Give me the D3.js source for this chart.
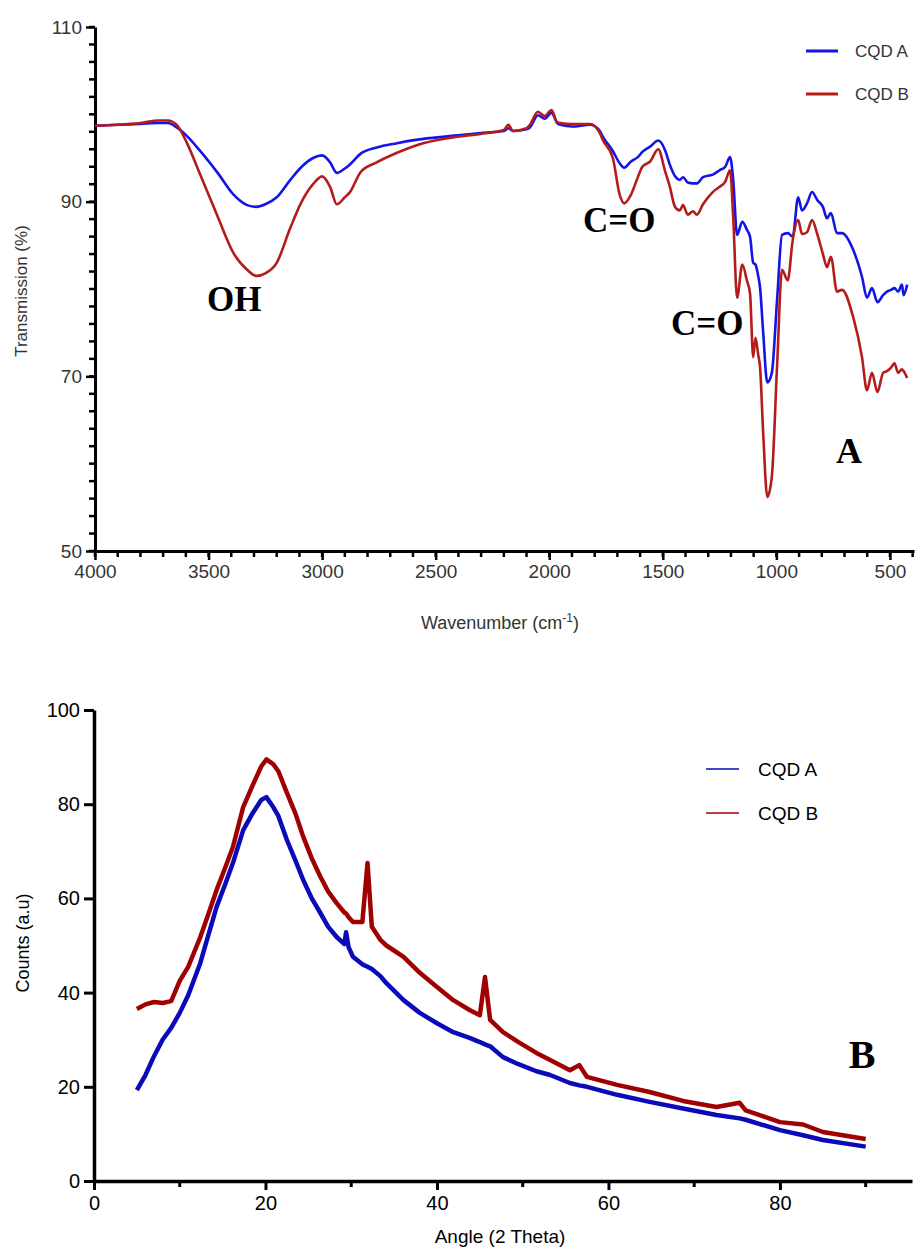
<!DOCTYPE html>
<meta charset="utf-8">
<style>
  body { margin: 0; background: #fff; }
  svg { display: block; }
  .ftir text { font-family: "Liberation Sans", Arial, sans-serif; fill: #333; }
  .xrd text { font-family: "Liberation Sans", Arial, sans-serif; fill: #000; }
  .note { font-family: "Liberation Serif", "Times New Roman", serif; font-weight: bold; fill: #000; }
  .axis path, .axis line { stroke: #000; }
</style>
<svg width="922" height="1248"></svg>
<script src="https://d3js.org/d3.v7.min.js"></script>
<script>

// ---- FTIR (panel A) ----
var wavenumbers = [4000,3900,3800,3720,3680,3640,3595,3540,3460,3390,3330,3290,3250,3200,3140,3090,3040,3000,
  2965,2935,2900,2880,2830,2760,2670,2580,2440,2290,2200,2180,2160,2100,2085,2050,2020,1990,1965,1950,1900,
  1820,1780,1763,1720,1690,1670,1640,1610,1590,1556,1520,1490,1470,1446,1425,1411,1390,1367,1350,1323,1280,
  1250,1225,1204,1190,1173,1150,1130,1116,1102,1092,1080,1072,1058,1040,1020,997,975,950,928,904,887,865,
  843,820,795,777,760,733,711,662,623,601,579,555,530,513,495,480,464,447,440,424];
var ftirA = [98.7,98.8,98.9,99.0,99.0,98.5,97.5,95.9,93.3,90.8,89.6,89.4,89.7,90.5,92.5,94.0,95.0,95.3,
  94.5,93.3,93.8,94.2,95.5,96.2,96.7,97.1,97.5,97.9,98.1,98.4,98.1,98.3,98.5,99.9,99.5,100.2,99.0,98.8,98.6,
  98.8,98.2,97.4,95.8,94.4,93.9,94.6,95.1,95.7,96.3,97.0,95.9,94.3,92.9,92.5,92.8,92.2,92.1,92.1,92.8,93.1,
  93.6,94.0,95.1,92.5,86.2,87.7,86.8,86.0,83.0,82.8,81.5,80.2,75.0,69.3,70.4,78.7,86.2,86.4,86.0,90.5,89.0,89.8,
  91.1,90.2,89.4,88.1,88.7,86.4,86.4,84.5,81.4,79.0,80.1,78.5,79.3,79.7,79.9,80.1,79.7,80.5,79.3,80.5];
var ftirB = [98.7,98.8,99.0,99.3,99.3,98.8,96.7,93.3,88.3,84.1,82.2,81.5,81.8,83.0,87.0,90.0,92.0,92.9,
  91.7,89.7,90.5,91.0,93.4,94.5,95.6,96.5,97.3,97.8,98.2,98.8,98.1,98.4,98.8,100.3,99.8,100.5,99.1,99.0,98.9,
  98.9,98.0,97.0,95.0,90.8,89.8,90.8,92.8,94.0,94.6,96.0,93.5,91.8,89.4,89.0,89.6,88.5,88.9,88.5,89.7,91.1,
  91.7,92.3,93.6,88.2,79.0,82.8,81.0,79.5,72.2,74.4,72.5,71.1,63.5,56.2,58.5,71.1,82.2,81.0,85.6,87.9,86.3,86.5,
  87.9,86.3,84.0,82.5,83.7,79.7,79.9,76.8,72.2,68.4,70.4,68.2,70.4,70.6,71.0,71.5,70.4,70.8,70.6,69.8];
var ftirTicksX = [4000,3500,3000,2500,2000,1500,1000,500];
var ftirTicksY = [50,70,90,110];

// ---- XRD (panel B) ----
var angles = [5,6,7,8,9,10,11,12.4,13.3,14.3,15.3,16.2,17.4,18.5,19.5,20.1,20.9,21.5,22.5,23.5,24.4,25.4,
  26.4,27.3,28.3,29.2,29.4,29.7,30.2,31.3,31.9,32.4,33.4,34.1,36.1,38,40,41.9,43.8,45,45.6,46.2,47.7,49.5,
  51.6,53.2,55.5,56.6,57.5,61,64.8,68.7,72.6,75.3,76,80,82.7,85,90];
var xrdA = [19.3,22.5,26.5,30.0,32.5,35.7,39.5,46.3,52.0,58.2,63.0,67.5,74.5,78.1,80.9,81.5,79.4,77.5,72.4,
  68.0,63.9,60.0,56.9,54.0,51.8,50.3,52.8,49.6,47.6,46.0,45.5,45.0,43.5,42.0,38.4,35.7,33.5,31.6,30.4,29.5,
  29.0,28.6,26.3,24.8,23.3,22.5,20.8,20.3,20.0,18.3,16.8,15.4,14.0,13.3,13.0,10.8,9.7,8.7,7.3];
var xrdB = [36.5,37.5,38.0,37.8,38.2,42.5,45.5,51.8,56.5,61.8,66.5,70.9,79.4,84.0,88.0,89.5,88.5,87.0,82.4,
  78.0,73.1,68.5,64.6,61.5,59.0,57.0,56.8,56.0,55.0,55.0,67.5,54.0,51.2,50.0,47.6,44.2,41.2,38.4,36.3,35.2,
  43.3,34.2,31.6,29.5,27.2,25.7,23.5,24.6,22.1,20.4,18.9,17.0,15.7,16.6,15.0,12.5,12.0,10.4,8.9];
var xrdTicksX = [0,20,40,60,80];
var xrdTicksY = [0,20,40,60,80,100];

var seriesNames = ["CQD A", "CQD B"];

var svg = d3.select("svg");

// minor ticks as plain lines
function minorTicks(g, vals, scale, at, horizontal, len, width) {
  g.selectAll(null).data(vals).enter().append("line")
      .attr("x1", d => horizontal ? scale(d) : at)
      .attr("x2", d => horizontal ? scale(d) : at - len)
      .attr("y1", d => horizontal ? at : scale(d))
      .attr("y2", d => horizontal ? at + len : scale(d))
      .attr("stroke", "#000")
      .attr("stroke-width", width);
}

// =============== panel A ===============
var gA = svg.append("g").attr("class", "ftir");
var xA = d3.scaleLinear().domain([4000, 394]).range([95, 914]);
var yA = d3.scaleLinear().domain([50, 110]).range([551, 27]);
var colorA = ["#1414e6", "#b41c1c"];

var yAxisA = gA.append("g").attr("class", "axis")
    .attr("transform", "translate(95,0)")
    .call(d3.axisLeft(yA).tickValues(ftirTicksY).tickSize(9).tickSizeOuter(0).tickPadding(4));
yAxisA.select(".domain").attr("stroke-width", 3);
yAxisA.selectAll("line").attr("stroke-width", 2.5);
yAxisA.selectAll("text").style("font-size", "19px");

var xAxisA = gA.append("g").attr("class", "axis")
    .attr("transform", "translate(0,551)")
    .call(d3.axisBottom(xA).tickValues(ftirTicksX).tickFormat(d3.format("d"))
      .tickSize(9).tickSizeOuter(0).tickPadding(5));
xAxisA.select(".domain").attr("stroke-width", 3);
xAxisA.selectAll("line").attr("stroke-width", 2.5);
xAxisA.selectAll("text").style("font-size", "19px");

minorTicks(gA, d3.range(50, 111, 2), yA, 95, false, 6, 2.5);
minorTicks(gA, d3.range(4000, 399, -100), xA, 551, true, 6, 2.5);

gA.append("text")
    .attr("transform", "translate(27,291) rotate(-90)")
    .attr("text-anchor", "middle")
    .style("font-size", "17px")
    .text("Transmission (%)");

var xt = gA.append("text")
    .attr("x", 500).attr("y", 629)
    .attr("text-anchor", "middle")
    .style("font-size", "18px");
xt.append("tspan").text("Wavenumber (cm");
xt.append("tspan").attr("dy", -7).style("font-size", "12px").text("-1");
xt.append("tspan").attr("dy", 7).text(")");

var lineA = d3.line().curve(d3.curveMonotoneX);
[ftirA, ftirB].forEach(function(vals, k) {
  gA.append("path")
      .datum(wavenumbers.map((w, i) => [xA(w), yA(vals[i])]))
      .attr("fill", "none")
      .attr("stroke", colorA[k])
      .attr("stroke-width", 2.6)
      .attr("stroke-linejoin", "round")
      .attr("d", lineA);
});

// legend A
seriesNames.forEach(function(name, k) {
  var ly = 51 + k * 43;
  gA.append("line").attr("x1", 806).attr("x2", 838).attr("y1", ly).attr("y2", ly)
      .attr("stroke", colorA[k]).attr("stroke-width", 3);
  gA.append("text").attr("x", 855).attr("y", ly + 6).style("font-size", "17px").text(name);
});

// annotations
svg.append("text").attr("class", "note").attr("x", 207).attr("y", 311).style("font-size", "35px").text("OH");
svg.append("text").attr("class", "note").attr("x", 583).attr("y", 232).style("font-size", "35px").text("C=O");
svg.append("text").attr("class", "note").attr("x", 671).attr("y", 335).style("font-size", "35px").text("C=O");
svg.append("text").attr("class", "note").attr("x", 836).attr("y", 463).style("font-size", "36px").text("A");

// =============== panel B ===============
var gB = svg.append("g").attr("class", "xrd");
var xB = d3.scaleLinear().domain([0, 95.4]).range([94, 912]);
var yB = d3.scaleLinear().domain([0, 100]).range([1181, 710]);
var colorB = ["#0a0ab8", "#a00000"];

var yAxisB = gB.append("g").attr("class", "axis")
    .attr("transform", "translate(94,0)")
    .call(d3.axisLeft(yB).tickValues(xrdTicksY).tickSize(10).tickSizeOuter(0).tickPadding(4));
yAxisB.select(".domain").attr("stroke-width", 3.5);
yAxisB.selectAll("line").attr("stroke-width", 3);
yAxisB.selectAll("text").style("font-size", "20px");

var xAxisB = gB.append("g").attr("class", "axis")
    .attr("transform", "translate(0,1181)")
    .call(d3.axisBottom(xB).tickValues(xrdTicksX).tickSize(9).tickSizeOuter(0).tickPadding(6));
xAxisB.select(".domain").attr("stroke-width", 3.5);
xAxisB.selectAll("line").attr("stroke-width", 3);
xAxisB.selectAll("text").style("font-size", "20px");

minorTicks(gB, [10, 30, 50, 70, 90], xB, 1181, true, 6, 3);

gB.append("text")
    .attr("transform", "translate(29,943) rotate(-90)")
    .attr("text-anchor", "middle")
    .style("font-size", "18px")
    .text("Counts (a.u)");
gB.append("text")
    .attr("x", 500).attr("y", 1243)
    .attr("text-anchor", "middle")
    .style("font-size", "19px")
    .text("Angle (2 Theta)");

var lineB = d3.line();
[xrdA, xrdB].forEach(function(vals, k) {
  gB.append("path")
      .datum(angles.map((a, i) => [xB(a), yB(vals[i])]))
      .attr("fill", "none")
      .attr("stroke", colorB[k])
      .attr("stroke-width", 4.5)
      .attr("stroke-linejoin", "round")
      .attr("d", lineB);
});

seriesNames.forEach(function(name, k) {
  var ly = 769 + k * 44;
  gB.append("line").attr("x1", 706).attr("x2", 739).attr("y1", ly).attr("y2", ly)
      .attr("stroke", colorB[k]).attr("stroke-width", 1.6);
  gB.append("text").attr("x", 758).attr("y", ly + 7).style("font-size", "19px").text(name);
});

svg.append("text").attr("class", "note").attr("x", 862).attr("y", 1068)
    .attr("text-anchor", "middle").style("font-size", "40px").text("B");

</script>
